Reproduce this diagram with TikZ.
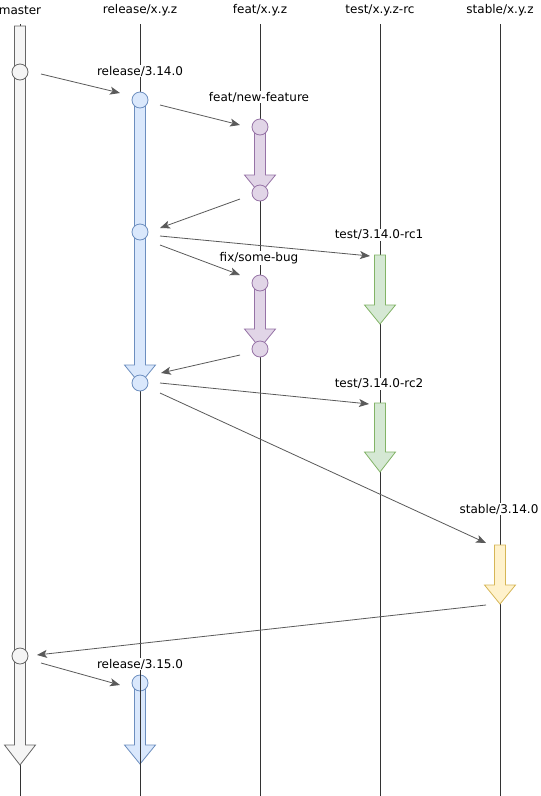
\documentclass[tikz,border=0pt]{standalone}
\usepackage{fontspec}
\setmainfont{DejaVu Sans}
\usetikzlibrary{arrows.meta}
\definecolor{lifec}{HTML}{333333}
\definecolor{conc}{HTML}{5A5A5A}
\definecolor{grayF}{HTML}{F5F5F5}\definecolor{grayD}{HTML}{666666}
\definecolor{blueF}{HTML}{DAE8FC}\definecolor{blueD}{HTML}{6C8EBF}
\definecolor{purpF}{HTML}{E1D5E7}\definecolor{purpD}{HTML}{9673A6}
\definecolor{greenF}{HTML}{D5E8D4}\definecolor{greenD}{HTML}{82B366}
\definecolor{yellF}{HTML}{FFF2CC}\definecolor{yellD}{HTML}{D6B656}
% block arrow: #1 x, #2 top, #3 head top, #4 tip, #5 style
\newcommand\myblockarrow[5]{%
  \draw[#5] (#1-5.5,#2) -- (#1-5.5,#3) -- (#1-15.5,#3) -- (#1,#4) -- (#1+15.5,#3)
    -- (#1+5.5,#3) -- (#1+5.5,#2) -- cycle;}
\begin{document}
\begin{tikzpicture}[x=1pt,y=-1pt,
  lifeline/.style={draw=lifec,line width=0.8pt},
  hdr/.style={font=\fontsize{12}{14}\selectfont,text=black,inner sep=1pt},
  lbl/.style={font=\fontsize{12}{14}\selectfont,text=black,fill=white,inner sep=1pt},
  grayA/.style={fill=grayF,draw=grayD,line width=0.8pt},
  blueA/.style={fill=blueF,draw=blueD,line width=0.8pt},
  purpA/.style={fill=purpF,draw=purpD,line width=0.8pt},
  greenA/.style={fill=greenF,draw=greenD,line width=0.8pt},
  yellA/.style={fill=yellF,draw=yellD,line width=0.8pt},
  dot/.style={circle,minimum size=16pt,inner sep=0pt,line width=0.8pt},
  conn/.style={draw=conc,line width=0.8pt,-{Stealth[length=10pt,width=8pt,inset=2.5pt]}}]
\useasboundingbox (0,0) rectangle (541,796);
\fill[white] (0,0) rectangle (541,796);
% headers
\node[hdr] (hmaster) at (20,10) {master};
\node[hdr] (hrel) at (140,10) {release/x.y.z};
\node[hdr] (hfeat) at (260,10) {feat/x.y.z};
\node[hdr] (htest) at (380,10) {test/x.y.z-rc};
\node[hdr] (hstab) at (500,10) {stable/x.y.z};
% lifelines
\foreach \x/\n in {20/lm,140/lr,260/lf,380/lt,500/ls}{
  \coordinate (\n top) at (\x,24);
  \coordinate (\n bot) at (\x,796);
  \draw[lifeline] (\n top) -- (\n bot);
}
% block arrows
\myblockarrow{20}{26}{745}{765}{grayA}
\myblockarrow{140}{100}{365}{384}{blueA}
\myblockarrow{260}{127}{175}{194}{purpA}
\myblockarrow{260}{283}{329}{348}{purpA}
\myblockarrow{380}{255}{305}{324}{greenA}
\myblockarrow{380}{403}{452}{472}{greenA}
\myblockarrow{500}{545}{585}{604}{yellA}
\myblockarrow{140}{683}{745}{764}{blueA}
% circles
\node[dot,fill=grayF,draw=grayD] (m1) at (20,72) {};
\node[dot,fill=grayF,draw=grayD] (m2) at (20,656) {};
\node[dot,fill=blueF,draw=blueD] (r1) at (140,100) {};
\node[dot,fill=blueF,draw=blueD] (r2) at (140,232) {};
\node[dot,fill=blueF,draw=blueD] (r3) at (140,383) {};
\node[dot,fill=blueF,draw=blueD] (r4) at (140,683) {};
\node[dot,fill=purpF,draw=purpD] (f1) at (260,127) {};
\node[dot,fill=purpF,draw=purpD] (f2) at (260,193) {};
\node[dot,fill=purpF,draw=purpD] (f3) at (260,283) {};
\node[dot,fill=purpF,draw=purpD] (f4) at (260,349) {};
% lifeline over the last release arrow
\coordinate (lr4top) at (140,664);
\draw[lifeline] (lr4top) -- (lrbot);
% labels
\node[lbl] (l1) at (140,71) {release/3.14.0};
\node[lbl] (l2) at (259,97) {feat/new-feature};
\node[lbl] (l3) at (379,235) {test/3.14.0-rc1};
\node[lbl] (l4) at (259,258) {fix/some-bug};
\node[lbl] (l5) at (379,384) {test/3.14.0-rc2};
\node[lbl] (l6) at (499,509) {stable/3.14.0};
\node[lbl] (l7) at (140,664) {release/3.15.0};
% connector end points
\coordinate (a1) at (41,74);   \coordinate (b1) at (120,93);
\coordinate (a2) at (160,105); \coordinate (b2) at (240,125);
\coordinate (a3) at (240,199); \coordinate (b3) at (160,228);
\coordinate (a4) at (160,236); \coordinate (b4) at (370,256);
\coordinate (a5) at (160,245); \coordinate (b5) at (240,275);
\coordinate (a6) at (240,355); \coordinate (b6) at (161,373);
\coordinate (a7) at (160,383); \coordinate (b7) at (369,404);
\coordinate (a8) at (160,393); \coordinate (b8) at (486,543);
\coordinate (a9) at (486,605); \coordinate (b9) at (37,655);
\coordinate (a10) at (41,663); \coordinate (b10) at (120,685);
\foreach \i in {1,...,10}{\draw[conn] (a\i) -- (b\i);}
\end{tikzpicture}
\end{document}
